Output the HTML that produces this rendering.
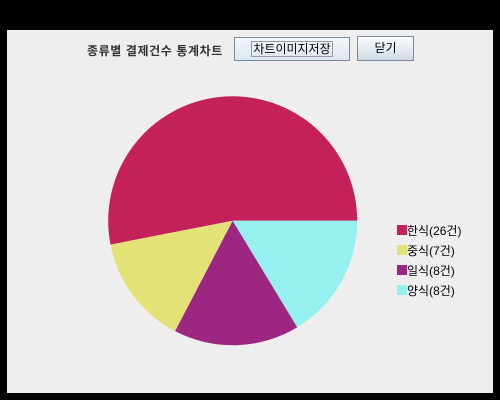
<!DOCTYPE html>
<html><head><meta charset="utf-8">
<style>
html,body{margin:0;padding:0;width:500px;height:400px;background:#000;overflow:hidden}
#panel{position:absolute;left:7px;top:30px;width:486px;height:363px;background:#eeeeee}
.t{position:absolute;font-family:"Liberation Sans","Noto Sans CJK KR",sans-serif}
#title{left:80px;top:12px;font-size:12px;font-weight:bold;color:#333;letter-spacing:0.6px}
.btn{position:absolute;box-sizing:border-box;border:1px solid #7a8a99;font-family:"Liberation Sans","Noto Sans CJK KR",sans-serif;font-size:12px;color:#000;text-align:center}
#save{left:227px;top:7px;width:116px;height:24px;background:linear-gradient(#f4f7fa,#dde6ef);line-height:22px}
#save span{border:1px solid #99a;padding:0 1px}
#close{left:350px;top:6px;width:57px;height:25px;background:linear-gradient(#fafcfe,#d2dbe6);line-height:23px}
svg{position:absolute;left:0;top:0}
</style></head><body>
<div id="panel">
<div class="t" id="title">종류별 결제건수 통계차트</div>
<div class="btn" id="save"><span>차트이미지저장</span></div>
<div class="btn" id="close">닫기</div>
</div>
<svg id="chart" width="500" height="400"></svg>
<script>
const categories=["한식","중식","일식","양식"];
const counts=[26,7,8,8];
const colors=["#c4215a","#e2e276","#9d2680","#96f0ef"];
const svg=document.getElementById('chart');
const NS="http://www.w3.org/2000/svg";
const cx=232.7,cy=220.8,r=124.5;
const total=counts.reduce((a,b)=>a+b,0);
let ang=0;
function pt(a){return [cx+r*Math.cos(a),cy-r*Math.sin(a)];}
counts.forEach((v,i)=>{
  const a0=ang,a1=ang+v/total*2*Math.PI;ang=a1;
  const p0=pt(a0),p1=pt(a1);
  const large=(a1-a0)>Math.PI?1:0;
  const p=document.createElementNS(NS,'path');
  p.setAttribute('d',`M${cx},${cy}L${p0[0]},${p0[1]}A${r},${r} 0 ${large} 0 ${p1[0]},${p1[1]}Z`);
  p.setAttribute('fill',colors[i]);
  
  
  svg.appendChild(p);
  const y=221+i*20;
  const s=document.createElementNS(NS,'rect');
  s.setAttribute('x',397);s.setAttribute('y',y+4);s.setAttribute('width',10);s.setAttribute('height',10);
  s.setAttribute('fill',colors[i]);
  
  
  svg.appendChild(s);
  const t=document.createElementNS(NS,'text');
  t.setAttribute('x',407);t.setAttribute('y',y+14);
  t.setAttribute('font-family','"Liberation Sans","Noto Sans CJK KR",sans-serif');
  t.setAttribute('font-size','12');
  t.textContent=categories[i]+'('+v+'건)';
  
  
  svg.appendChild(t);
});
</script>
</body></html>
